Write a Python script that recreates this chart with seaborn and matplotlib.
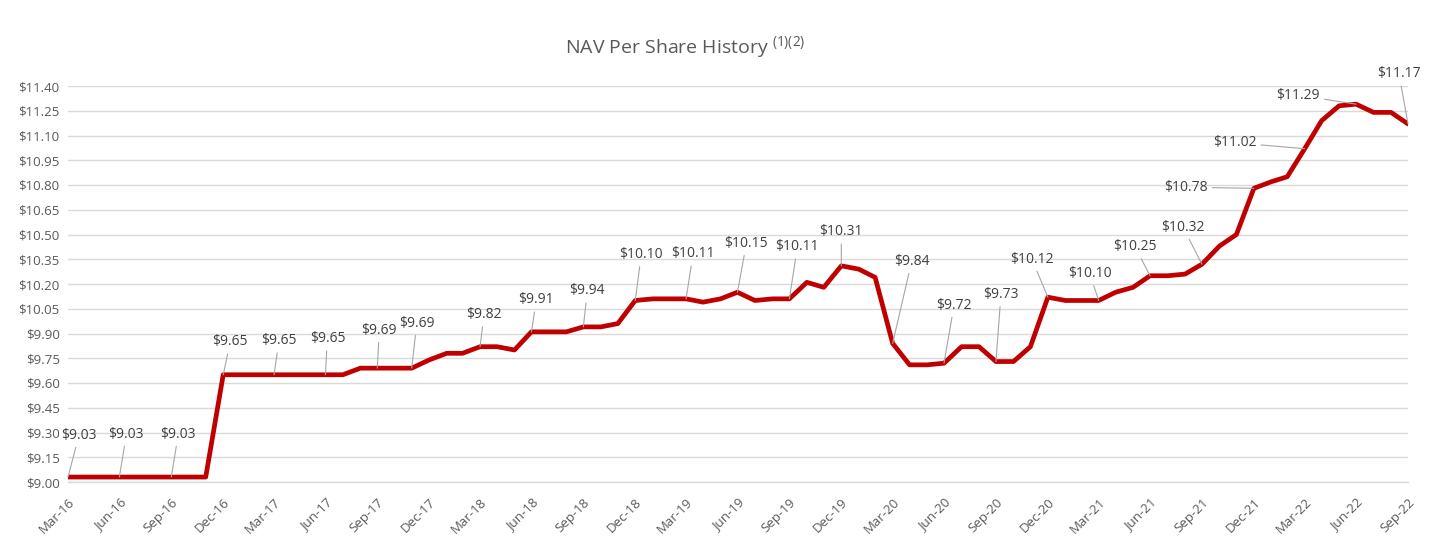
import matplotlib
matplotlib.use('Agg')
import matplotlib.pyplot as plt
import matplotlib.dates as mdates
import seaborn as sns
import pandas as pd
import numpy as np

# month-end NAV per share (Mar-16 .. Sep-22)
nav_2016 = [9.03, 9.03, 9.03, 9.03, 9.03, 9.03, 9.03, 9.03, 9.03, 9.65]
nav_2017 = [9.65, 9.65, 9.65, 9.65, 9.65, 9.65, 9.65, 9.69, 9.69, 9.69, 9.69, 9.74]
nav_2018 = [9.78, 9.78, 9.82, 9.82, 9.80, 9.91, 9.91, 9.91, 9.94, 9.94, 9.96, 10.10]
nav_2019 = [10.11, 10.11, 10.11, 10.09, 10.11, 10.15, 10.10, 10.11, 10.11, 10.21, 10.18, 10.31]
nav_2020 = [10.29, 10.24, 9.84, 9.71, 9.71, 9.72, 9.82, 9.82, 9.73, 9.73, 9.82, 10.12]
nav_2021 = [10.10, 10.10, 10.10, 10.15, 10.18, 10.25, 10.25, 10.26, 10.32, 10.43, 10.50, 10.78]
nav_2022 = [10.82, 10.85, 11.02, 11.19, 11.28, 11.29, 11.24, 11.24, 11.17]

# months that carry a data label
label_months = ['2016-03', '2016-06', '2016-09', '2016-12', '2017-03', '2017-06', '2017-09',
                '2017-11', '2018-03', '2018-06', '2018-09', '2018-12', '2019-03', '2019-06',
                '2019-09', '2019-12', '2020-03', '2020-06', '2020-09', '2020-12', '2021-03',
                '2021-06', '2021-09', '2021-12', '2022-03', '2022-06', '2022-09']

# label text offsets from the point (pixels)
label_offsets = [(11, 42), (7, 43), (7, 43), (7, 33), (5, 34), (2, 36), (2, 38),
                 (5, 45), (4, 32), (5, 32), (4, 36), (6, 46), (7, 45), (9, 49),
                 (8, 52), (0, 34), (19, 82), (10, 58), (5, 67), (-16, 38), (-9, 27),
                 (-15, 29), (-19, 37), (-68, 1), (-70, 6), (-58, 9), (-9, 50)]

nav = nav_2016 + nav_2017 + nav_2018 + nav_2019 + nav_2020 + nav_2021 + nav_2022
months = pd.period_range('2016-03', '2022-09', freq='M')
dates = months.to_timestamp(how='end').normalize()
df = pd.DataFrame({'date': dates, 'nav': nav})

sns.set_theme(style='white')
plt.rcParams['font.family'] = ['Open Sans', 'DejaVu Sans']
plt.rcParams['mathtext.fontset'] = 'custom'
plt.rcParams['mathtext.rm'] = 'Open Sans'
plt.rcParams['mathtext.it'] = 'Open Sans'
plt.rcParams['mathtext.bf'] = 'Open Sans'

text_grey = '#595959'
grid_grey = '#D9D9D9'

fig = plt.figure(figsize=(14.29, 5.44), dpi=100)
ax = fig.add_axes([68 / 1429, 1 - 482 / 544, (1408 - 68) / 1429, (482 - 86) / 544])

sns.lineplot(data=df, x='date', y='nav', ax=ax, color='#C00000', linewidth=3.4)

# axes limits and ticks
ax.set_xlim(dates[0], dates[-1])
ax.set_ylim(9.0, 11.4)
ax.set_yticks(np.round(np.arange(9.0, 11.41, 0.15), 2))
ax.yaxis.set_major_formatter(matplotlib.ticker.FuncFormatter(lambda v, p: '${:.2f}'.format(v)))
ax.set_xticks(dates[::3])
ax.xaxis.set_major_formatter(mdates.DateFormatter('%b-%y'))
plt.setp(ax.get_xticklabels(), rotation=45, ha='right', rotation_mode='anchor')
ax.tick_params(axis='x', direction='out', length=5, width=1, color=grid_grey,
               labelcolor=text_grey, labelsize=9.5, pad=5)
ax.tick_params(axis='y', length=0, labelcolor=text_grey, labelsize=9.5, pad=6)
ax.set_xlabel('')
ax.set_ylabel('')

# gridlines and spines
ax.yaxis.grid(True, color=grid_grey, linewidth=1)
ax.xaxis.grid(False)
for s in ['top', 'right', 'left']:
    ax.spines[s].set_visible(False)
ax.spines['bottom'].set_color(grid_grey)
ax.spines['bottom'].set_linewidth(1)

# data labels with leader lines
for m, (dx, dy) in zip(label_months, label_offsets):
    d = pd.Period(m, 'M').to_timestamp(how='end').normalize()
    v = df.loc[df['date'] == d, 'nav'].iloc[0]
    ax.annotate('${:.2f}'.format(v), xy=(mdates.date2num(d), v), xytext=(dx, dy),
                textcoords='offset pixels', ha='center', va='center', fontsize=10,
                color='#404040', annotation_clip=False,
                arrowprops=dict(arrowstyle='-', color='#A6A6A6', lw=0.8, shrinkA=1, shrinkB=0))

# title with superscript notes
fig.text(565 / 1429, 1 - 47 / 544, r'NAV Per Share History $^{(1)(2)}$', ha='left', va='center',
         fontsize=14, color=text_grey)

fig.savefig('out.png', dpi=100)
